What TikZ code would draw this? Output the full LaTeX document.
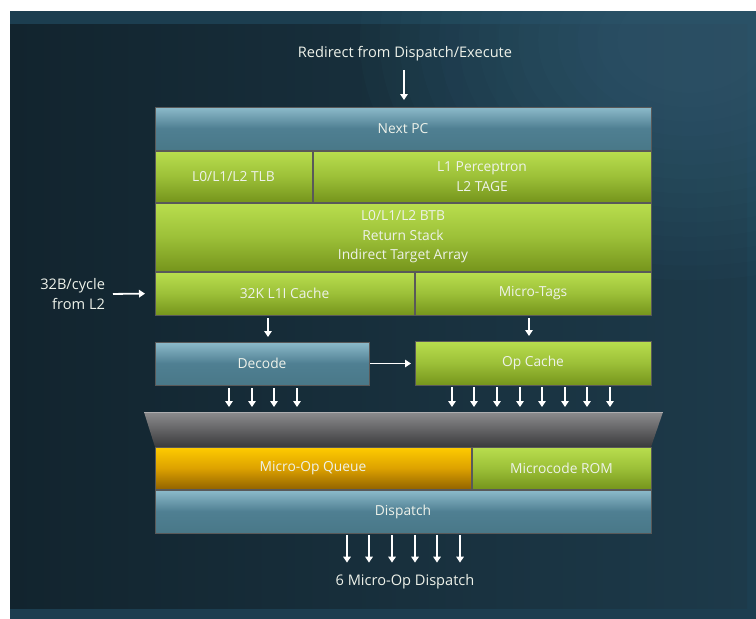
\documentclass[tikz,border=0pt]{standalone}
\usepackage{fontspec}
\setmainfont{Open Sans}
\usetikzlibrary{calc,arrows.meta}
\definecolor{bgouter}{HTML}{1C3E50}
\definecolor{bgleft}{HTML}{12242E}
\definecolor{bgright}{HTML}{1D3A4A}
\definecolor{glow}{HTML}{3E6E86}
\definecolor{txt}{HTML}{EEF2EA}
\definecolor{bluetop}{HTML}{8DBBCB}
\definecolor{bluemid}{HTML}{4F7F92}
\definecolor{bluebot}{HTML}{497888}
\definecolor{greentop}{HTML}{B9DE4E}
\definecolor{greenmid}{HTML}{9CC038}
\definecolor{greenbot}{HTML}{76951C}
\definecolor{orangetop}{HTML}{FFCC00}
\definecolor{orangemid}{HTML}{DDA200}
\definecolor{orangebot}{HTML}{946400}
\definecolor{graytop}{HTML}{8C8C8E}
\definecolor{graybot}{HTML}{3A3A3C}
\tikzset{
  box/.style={inner sep=0pt, outer sep=0pt, draw=black!65, line width=0.7pt,
    font=\fontsize{13.8}{19.5}\selectfont, text=txt, align=center},
  bluebox/.style={box, top color=bluetop, bottom color=bluebot, middle color=bluemid},
  greenbox/.style={box, top color=greentop, bottom color=greenbot, middle color=greenmid},
  orangebox/.style={box, top color=orangetop, bottom color=orangebot, middle color=orangemid},
  lbl/.style={text=txt, font=\fontsize{14.6}{20}\selectfont, align=center},
  arr/.style={draw=white, line width=1.8pt, -{Triangle[length=6pt,width=7.5pt]}}
}
\begin{document}
\begin{tikzpicture}[x=1pt,y=-1pt]
\useasboundingbox (0,0) rectangle (756,619);
% background
\fill[bgouter] (10,11) rectangle (756,619);
\shade[left color=bgleft, right color=bgright] (10,24) rectangle (747,608);
\begin{scope}
  \clip (10,11) rectangle (756,619);
  \foreach \s in {1.0,0.94,0.88,0.82,0.76,0.70,0.64,0.58,0.52,0.46,0.40,0.34,0.28,0.22}
    \fill[glow, opacity=0.05] (690,40) ellipse ({330*\s pt} and {240*\s pt});
\end{scope}
% boxes
\node[bluebox, minimum width=496pt, minimum height=43pt] (npc) at (403,128.5) {Next PC};
\node[greenbox, minimum width=157pt, minimum height=51pt] (tlb) at (233.5,176.5) {L0/L1/L2 TLB};
\node[greenbox, minimum width=338pt, minimum height=51pt] (perc) at (482,176.5) {L1 Perceptron\\L2 TAGE};
\node[greenbox, minimum width=496pt, minimum height=68pt] (btb) at (403,237) {L0/L1/L2 BTB\\Return Stack\\Indirect Target Array};
\node[greenbox, minimum width=259pt, minimum height=43pt] (l1i) at (284.5,293.5) {32K L1I Cache};
\node[greenbox, minimum width=236pt, minimum height=43pt] (mtags) at (533,293.5) {Micro-Tags};
\node[bluebox, minimum width=214pt, minimum height=43pt] (dec) at (262,363.5) {Decode};
\node[greenbox, minimum width=236pt, minimum height=44pt] (opc) at (533,363) {Op Cache};
% trapezoid
\shade[top color=graytop, bottom color=graybot] (144,412) -- (663,412) -- (651,447) -- (155,447) -- cycle;
\draw[graytop!70!white, line width=0.6pt] (144,412) -- (663,412);
\coordinate (trapN) at (403,412);
\node[orangebox, minimum width=316pt, minimum height=42pt] (muq) at (313,468) {Micro-Op Queue};
\node[greenbox, minimum width=179pt, minimum height=42pt] (mrom) at (561.5,468) {Microcode ROM};
\node[bluebox, minimum width=496pt, minimum height=43pt] (disp) at (403,511.5) {Dispatch};
% labels
\node[lbl] (redir) at (405,54) {Redirect from Dispatch/Execute};
\node[lbl, align=right, anchor=east] (l2in) at (108.5,294) {32B/cycle\\from L2};
\node[lbl] (out) at (405,582) {6 Micro-Op Dispatch};
% arrows
\draw[arr, shorten <=5pt, shorten >=7pt] ([xshift=-1pt]redir.south) -- ([xshift=1pt]npc.north);
\draw[arr, shorten <=4.5pt, shorten >=10pt] (l2in.east) -- (l1i.west);
\draw[arr, shorten <=3pt, shorten >=5pt] ([xshift=-16.5pt]l1i.south) -- ([xshift=6pt]dec.north);
\draw[arr, shorten <=3pt, shorten >=5pt] ([xshift=-4pt]mtags.south) -- ([xshift=-4pt]opc.north);
\draw[arr, shorten <=1pt, shorten >=4pt] (dec.east) -- (dec.east -| opc.west);
\foreach \a/\b in {-33/-174,-10/-151,12/-129,35/-106}
  \draw[arr, shorten <=3pt, shorten >=5pt] ([xshift=\a pt]dec.south) -- ([xshift=\b pt]trapN);
\foreach \a/\b in {-81/49,-59/71,-36/94,-13/117,9/139,32/162,54/184,77/207}
  \draw[arr, shorten <=2pt, shorten >=5pt] ([xshift=\a pt]opc.south) -- ([xshift=\b pt]trapN);
\foreach \a/\b in {-56/-58,-34/-36,-11/-13,12/10,34/32,57/55}
  \draw[arr, shorten <=2pt, shorten >=8.5pt] ([xshift=\a pt]disp.south) -- ([xshift=\b pt]out.north);
\end{tikzpicture}
\end{document}
